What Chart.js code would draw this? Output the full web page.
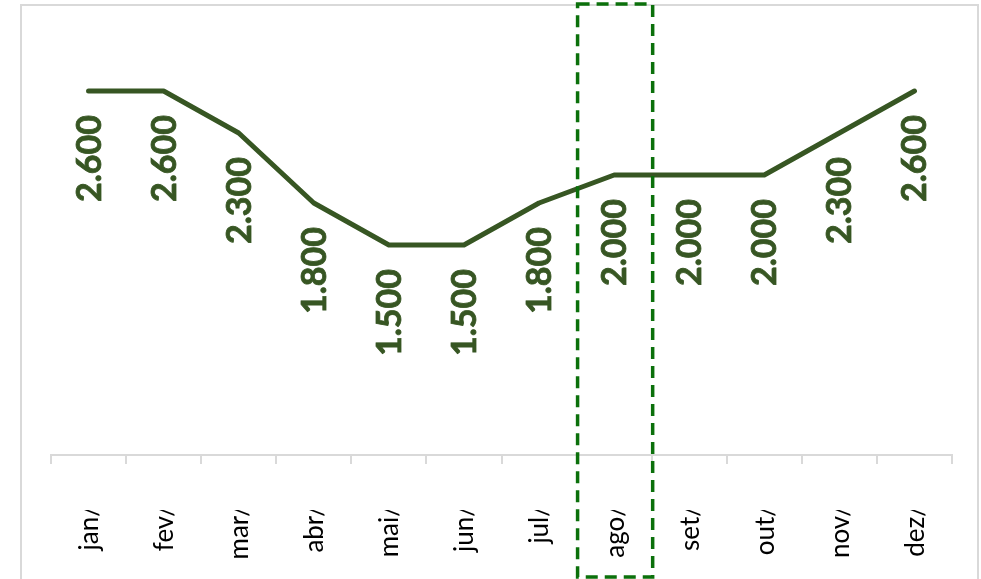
<!DOCTYPE html>
<html>
<head>
<meta charset="utf-8">
<script src="https://cdn.jsdelivr.net/npm/chart.js@4/dist/chart.umd.min.js"></script>
<style>
  html, body { margin: 0; padding: 0; background: #fff; }
  #wrap { position: relative; width: 981px; height: 579px; }
</style>
</head>
<body>
<div id="wrap"><canvas id="chart"></canvas></div>
<script>
'use strict';

// ===== data =====
const MONTHS = ['jan/', 'fev/', 'mar/', 'abr/', 'mai/', 'jun/', 'jul/', 'ago/', 'set/', 'out/', 'nov/', 'dez/'];
const VALUES = [2600, 2600, 2300, 1800, 1500, 1500, 1800, 2000, 2000, 2000, 2300, 2600];
const HIGHLIGHT = 'ago/';

// ===== colors =====
const LINE_COLOR = '#375623';
const BOX_COLOR = '#0b700b';
const FRAME_COLOR = '#d9d9d9';

function fmt(v){
  // 2600 -> "2.600"
  return String(v).replace(/\B(?=(\d{3})+(?!\d))/g, '.');
}

// outer frame (excel chart border), cut by the bottom of the window
const framePlugin = {
  id: 'frame',
  beforeDraw(chart){
    const ctx = chart.ctx;
    ctx.save();
    ctx.strokeStyle = FRAME_COLOR;
    ctx.lineWidth = 2;
    ctx.beginPath();
    ctx.moveTo(21, 600);
    ctx.lineTo(21, 5);
    ctx.lineTo(978, 5);
    ctx.lineTo(978, 600);
    ctx.stroke();
    ctx.restore();
  }
};

// vertical month labels, bottom-to-top, clipped at the top like excel does
const monthLabels = {
  id: 'monthLabels',
  afterDraw(chart){
    const ctx = chart.ctx;
    const x = chart.scales.x;
    ctx.save();
    ctx.beginPath();
    ctx.rect(0, 510, chart.width, chart.height);
    ctx.clip();
    ctx.fillStyle = '#000';
    ctx.font = '26px Lato, "Open Sans", sans-serif';
    ctx.textAlign = 'right';
    ctx.textBaseline = 'middle';
    MONTHS.forEach((m, i) => {
      ctx.save();
      ctx.translate(x.getPixelForValue(i) + 1, 505);
      ctx.rotate(-Math.PI / 2);
      ctx.fillText(m, 0, 0);
      ctx.restore();
    });
    ctx.restore();
  }
};

// value labels under each point
const valueLabels = {
  id: 'valueLabels',
  afterDatasetsDraw(chart){
    const ctx = chart.ctx;
    const meta = chart.getDatasetMeta(0);
    ctx.save();
    ctx.fillStyle = LINE_COLOR;
    ctx.font = 'bold 34px Lato, "Open Sans", sans-serif';
    ctx.textAlign = 'right';
    ctx.textBaseline = 'middle';
    ctx.strokeStyle = LINE_COLOR;
    ctx.lineWidth = 0.8;
    meta.data.forEach((pt, i) => {
      ctx.save();
      ctx.translate(pt.x + 1, pt.y + 24);
      ctx.rotate(-Math.PI / 2);
      ctx.fillText(fmt(VALUES[i]), 0, 0);
      ctx.strokeText(fmt(VALUES[i]), 0, 0);
      ctx.restore();
    });
    ctx.restore();
  }
};

// dashed box around the highlighted month
const highlightBox = {
  id: 'highlightBox',
  afterDraw(chart){
    const x = chart.scales.x;
    const i = MONTHS.indexOf(HIGHLIGHT);
    if(i < 0) return;
    const half = (x.getPixelForValue(1) - x.getPixelForValue(0)) / 2;
    const cx = x.getPixelForValue(i);
    const ctx = chart.ctx;
    ctx.save();
    ctx.strokeStyle = BOX_COLOR;
    ctx.lineWidth = 3.5;
    ctx.setLineDash([12, 7]);
    ctx.strokeRect(cx - half + 1, 4, half * 2, 573);
    ctx.restore();
  }
};

new Chart(document.getElementById('chart'), {
  type: 'line',
  data: {
    labels: MONTHS,
    datasets: [{
      data: VALUES,
      borderColor: LINE_COLOR,
      borderWidth: 5,
      borderCapStyle: 'round',
      borderJoinStyle: 'round',
      pointRadius: 0,
      tension: 0,
      fill: false
    }]
  },
  options: {
    responsive: true,
    maintainAspectRatio: false,
    animation: false,
    layout: { padding: { left: 51, right: 29, top: 35, bottom: 0 } },
    plugins: {
      legend: { display: false },
      tooltip: { enabled: false }
    },
    scales: {
      x: {
        offset: true,
        grid: {
          offset: true,
          drawOnChartArea: false,
          drawTicks: true,
          tickLength: 9,
          color: FRAME_COLOR,
          lineWidth: 2
        },
        border: { color: FRAME_COLOR, width: 2 },
        ticks: { display: true, color: 'rgba(0,0,0,0)', font: { size: 1 }, padding: 0 },
        afterFit(scale){ scale.height = 124; }
      },
      y: {
        display: false,
        min: 0,
        max: 3000
      }
    }
  },
  plugins: [framePlugin, valueLabels, monthLabels, highlightBox]
});
</script>
</body>
</html>
